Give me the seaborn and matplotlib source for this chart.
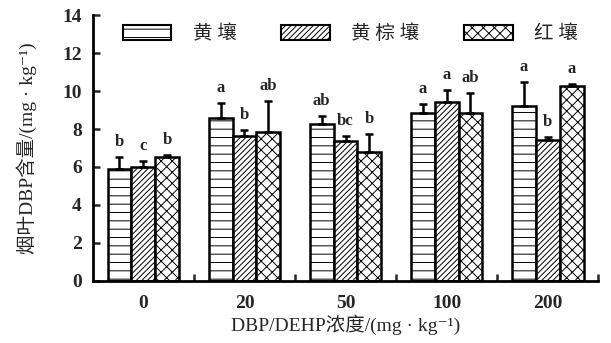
import numpy as np
import pandas as pd
import matplotlib
matplotlib.use("Agg")
import matplotlib.pyplot as plt
import seaborn as sns
from matplotlib.patches import Patch

# ---- data ----
concentrations = ['0', '20', '50', '100', '200']
soils = ['黄壤', '黄棕壤', '红壤']
yellow = [5.88, 8.60, 8.25, 8.86, 9.21]
yellow_err = [0.66, 0.79, 0.45, 0.44, 1.25]
brown = [6.02, 7.65, 7.37, 9.40, 7.40]
brown_err = [0.31, 0.30, 0.28, 0.65, 0.18]
red = [6.53, 7.86, 6.80, 8.82, 10.26]
red_err = [0.10, 1.63, 0.92, 1.09, 0.09]
yellow_sig = ['b', 'a', 'ab', 'a', 'a']
brown_sig = ['c', 'b', 'bc', 'a', 'b']
red_sig = ['b', 'ab', 'b', 'ab', 'a']
yticks = [0, 2, 4, 6, 8, 10, 12, 14]

values = [yellow, brown, red]
errors = [yellow_err, brown_err, red_err]
sigs = [yellow_sig, brown_sig, red_sig]
hatches = ['--', '//////', 'xxx']

rows = []
for s, vals in zip(soils, values):
    for c, v in zip(concentrations, vals):
        rows.append({'conc': c, 'soil': s, 'val': v})
df = pd.DataFrame(rows)

sns.set_style("ticks")
FAM = ['Liberation Serif', 'Noto Sans CJK SC', 'DejaVu Sans']
plt.rcParams['font.family'] = FAM
plt.rcParams['hatch.linewidth'] = 0.7
plt.rcParams['hatch.color'] = 'black'

fig = plt.figure(figsize=(6.11, 3.43), dpi=100)
ax = fig.add_axes([0.152, 0.181, 0.827, 0.775])

sns.barplot(data=df, x='conc', y='val', hue='soil', order=concentrations,
            hue_order=soils, width=0.71, errorbar=None, ax=ax,
            palette=['white'] * 3, edgecolor='black', linewidth=1.8,
            legend=False)

for cont, h, errs, sg in zip(ax.containers, hatches, errors, sigs):
    xs, ys = [], []
    for bar in cont:
        bar.set_hatch(h)
        bar.set_edgecolor('black')
        xs.append(bar.get_x() + bar.get_width() / 2)
        ys.append(bar.get_height())
    ax.errorbar(xs, ys, yerr=[np.zeros(len(errs)), errs], fmt='none',
                ecolor='black', elinewidth=1.8, capsize=3, capthick=1.8, zorder=1)
    for x, y, e, t in zip(xs, ys, errs, sg):
        ax.annotate(t, (x, y + e), xytext=(0, 5), textcoords='offset points',
                    ha='center', va='bottom', fontsize=12, fontweight='bold')

ax.set_xlim(-0.5, 4.5)
ax.set_ylim(0, 14)
ax.set_yticks(yticks)
ax.set_yticklabels([str(t) for t in yticks], fontsize=14, fontweight='bold')
ax.set_xticks(range(len(concentrations)))
ax.set_xticklabels(concentrations, fontsize=14, fontweight='bold')
ax.tick_params(axis='x', which='major', length=0, pad=10)
ax.set_xticks([0.5, 1.5, 2.5, 3.5, 4.5], minor=True)
ax.tick_params(axis='x', which='minor', direction='in', length=5, width=1.8)
ax.tick_params(axis='y', direction='in', length=5, width=1.8, pad=8)
for sp in ['top', 'right']:
    ax.spines[sp].set_visible(False)
for sp in ['left', 'bottom']:
    ax.spines[sp].set_linewidth(2)
    ax.spines[sp].set_color('black')

ax.set_xlabel('DBP/DEHP浓度/(mg · kg⁻¹)', fontsize=14, labelpad=2)
ax.set_ylabel('烟叶DBP含量/(mg · kg⁻¹)', fontsize=14)
ax.yaxis.set_label_coords(-0.11, 0.5)

handles = [Patch(facecolor='white', edgecolor='black', hatch=h, linewidth=1.5)
           for h in hatches]
ax.legend(handles, ['黄 壤', '黄 棕 壤', '红 壤'], loc='center', ncol=3,
          bbox_to_anchor=(0.51, 0.93), frameon=False, fontsize=14,
          handlelength=2.5, handleheight=0.8, handletextpad=1.1,
          columnspacing=2.3)

fig.savefig('out.png', dpi=100)
